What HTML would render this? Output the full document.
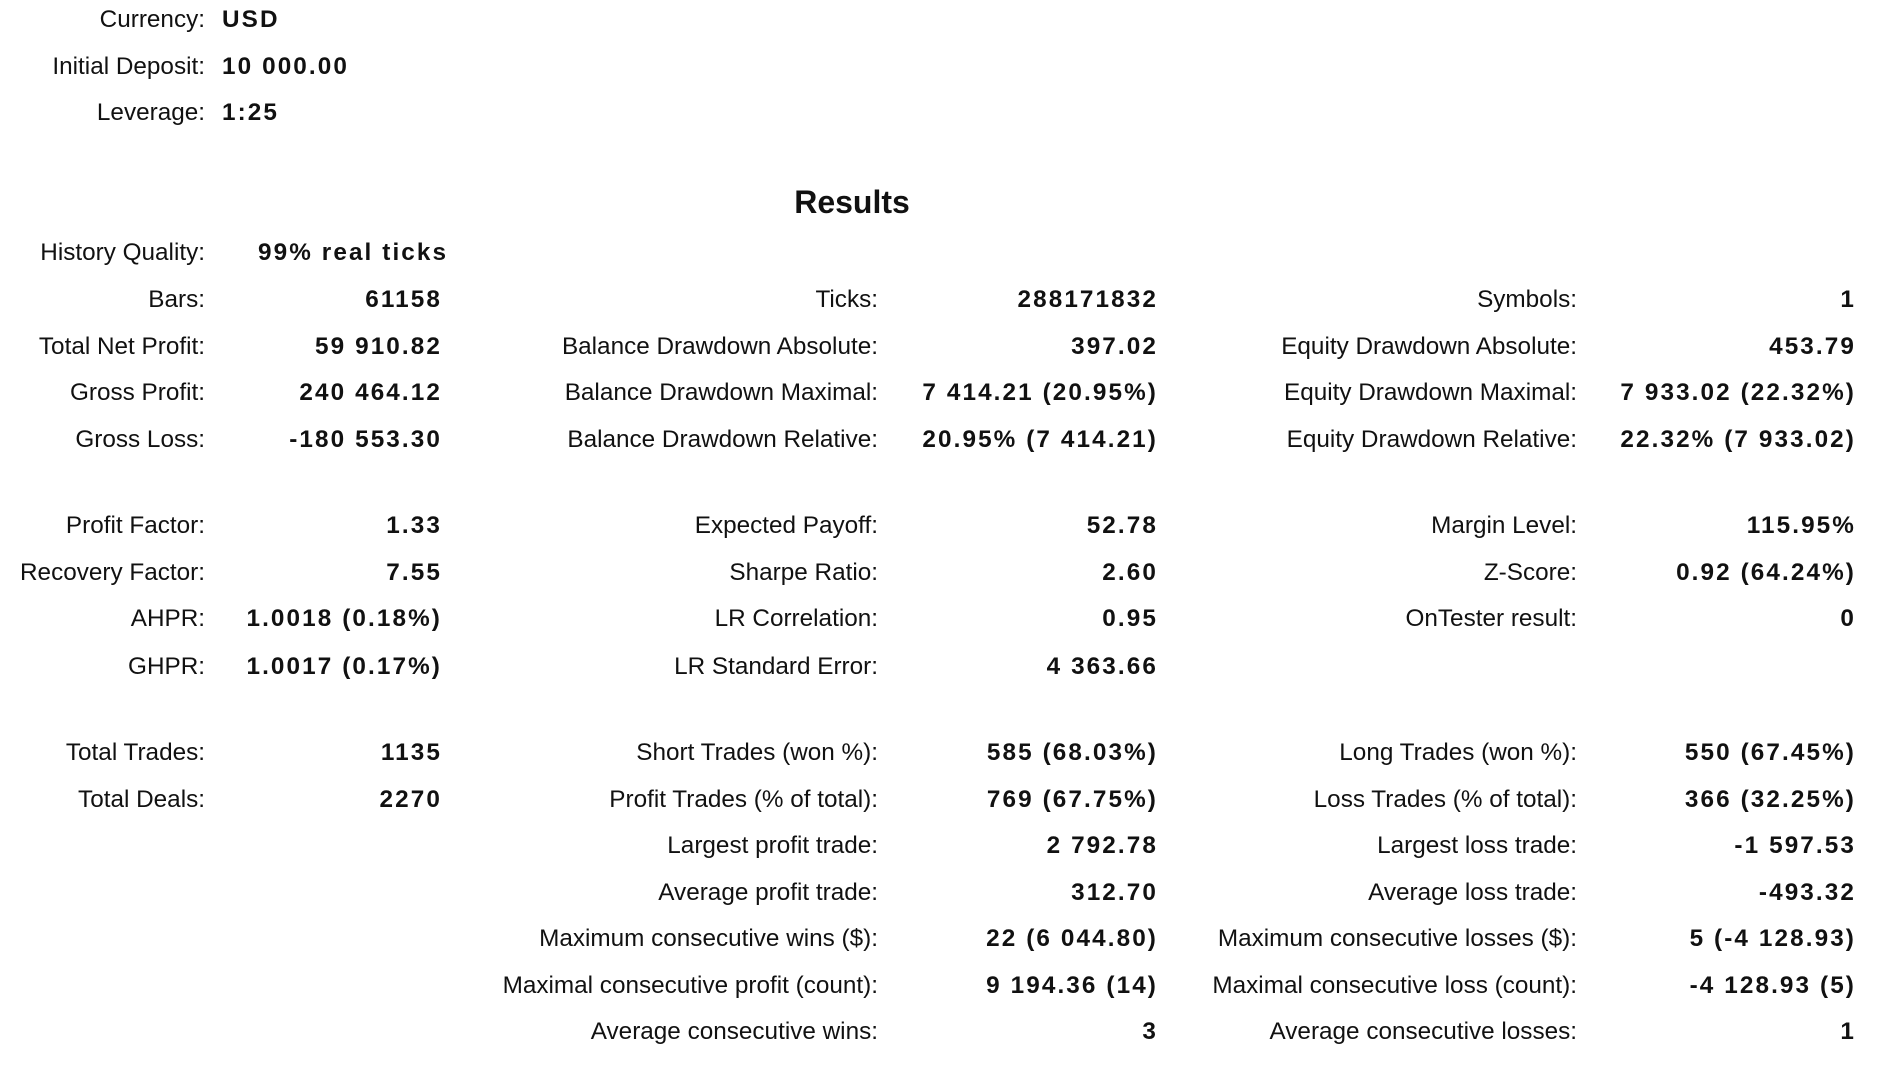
<!DOCTYPE html>
<html><head><meta charset="utf-8">
<style>
html,body{margin:0;padding:0;background:#fff;}
body{width:1900px;height:1071px;position:relative;overflow:hidden;font-family:"Liberation Sans",sans-serif;color:#111;}
.t{position:absolute;height:30px;line-height:30px;font-size:24.3px;white-space:nowrap;}
.l{text-align:right;}
.v{text-align:right;font-weight:bold;letter-spacing:2.1px;}
.h{font-weight:bold;font-size:32px;}
</style></head>
<body>
<div class="t h" style="left:752px;width:200px;text-align:center;top:183px;height:38px;line-height:38px;">Results</div>
<script>
const rowY=[15,54,92,208,246,285,323,362,433,472,510,549,620,659,697,736,774,813,851];
const SC=1.2115;
const topItems=[["Currency:","USD",0],["Initial Deposit:","10 000.00",1],["Leverage:","1:25",2]];
const cols=[[205,442],[878,1158],[1577,1856]];
const items=[
[0,3,"History Quality:","99% real ticks"],
[0,4,"Bars:","61158"],[1,4,"Ticks:","288171832"],[2,4,"Symbols:","1"],
[0,5,"Total Net Profit:","59 910.82"],[1,5,"Balance Drawdown Absolute:","397.02"],[2,5,"Equity Drawdown Absolute:","453.79"],
[0,6,"Gross Profit:","240 464.12"],[1,6,"Balance Drawdown Maximal:","7 414.21 (20.95%)"],[2,6,"Equity Drawdown Maximal:","7 933.02 (22.32%)"],
[0,7,"Gross Loss:","-180 553.30"],[1,7,"Balance Drawdown Relative:","20.95% (7 414.21)"],[2,7,"Equity Drawdown Relative:","22.32% (7 933.02)"],
[0,8,"Profit Factor:","1.33"],[1,8,"Expected Payoff:","52.78"],[2,8,"Margin Level:","115.95%"],
[0,9,"Recovery Factor:","7.55"],[1,9,"Sharpe Ratio:","2.60"],[2,9,"Z-Score:","0.92 (64.24%)"],
[0,10,"AHPR:","1.0018 (0.18%)"],[1,10,"LR Correlation:","0.95"],[2,10,"OnTester result:","0"],
[0,11,"GHPR:","1.0017 (0.17%)"],[1,11,"LR Standard Error:","4 363.66"],
[0,12,"Total Trades:","1135"],[1,12,"Short Trades (won %):","585 (68.03%)"],[2,12,"Long Trades (won %):","550 (67.45%)"],
[0,13,"Total Deals:","2270"],[1,13,"Profit Trades (% of total):","769 (67.75%)"],[2,13,"Loss Trades (% of total):","366 (32.25%)"],
[1,14,"Largest profit trade:","2 792.78"],[2,14,"Largest loss trade:","-1 597.53"],
[1,15,"Average profit trade:","312.70"],[2,15,"Average loss trade:","-493.32"],
[1,16,"Maximum consecutive wins ($):","22 (6 044.80)"],[2,16,"Maximum consecutive losses ($):","5 (-4 128.93)"],
[1,17,"Maximal consecutive profit (count):","9 194.36 (14)"],[2,17,"Maximal consecutive loss (count):","-4 128.93 (5)"],
[1,18,"Average consecutive wins:","3"],[2,18,"Average consecutive losses:","1"]
];
function slug(s){return s.toLowerCase().replace(/[^a-z0-9]+/g,'-').replace(/^-|-$/g,'');}
function mk(cls,text,x,right,y,name){
  const d=document.createElement('div');
  d.className='t '+cls;
  d.textContent=text;
  d.style.top=(y*SC-13.5)+'px';
  if(right){d.style.right=(1900-x)+'px';}else{d.style.left=x+'px';}
  
  
  document.body.appendChild(d);
}
topItems.forEach(it=>{
  mk('l',it[0],205,true,rowY[it[2]],slug(it[0])+'-label');
  mk('v',it[1],222,false,rowY[it[2]],slug(it[0])+'-value');
});
items.forEach(it=>{
  const c=cols[it[0]],y=rowY[it[1]];
  mk('l',it[2],c[0],true,y,slug(it[2])+'-label');
  if(it[1]===3){mk('v',it[3],258,false,y,slug(it[2])+'-value');}
  else{mk('v',it[3],c[1],true,y,slug(it[2])+'-value');}
});
</script>
</body></html>
